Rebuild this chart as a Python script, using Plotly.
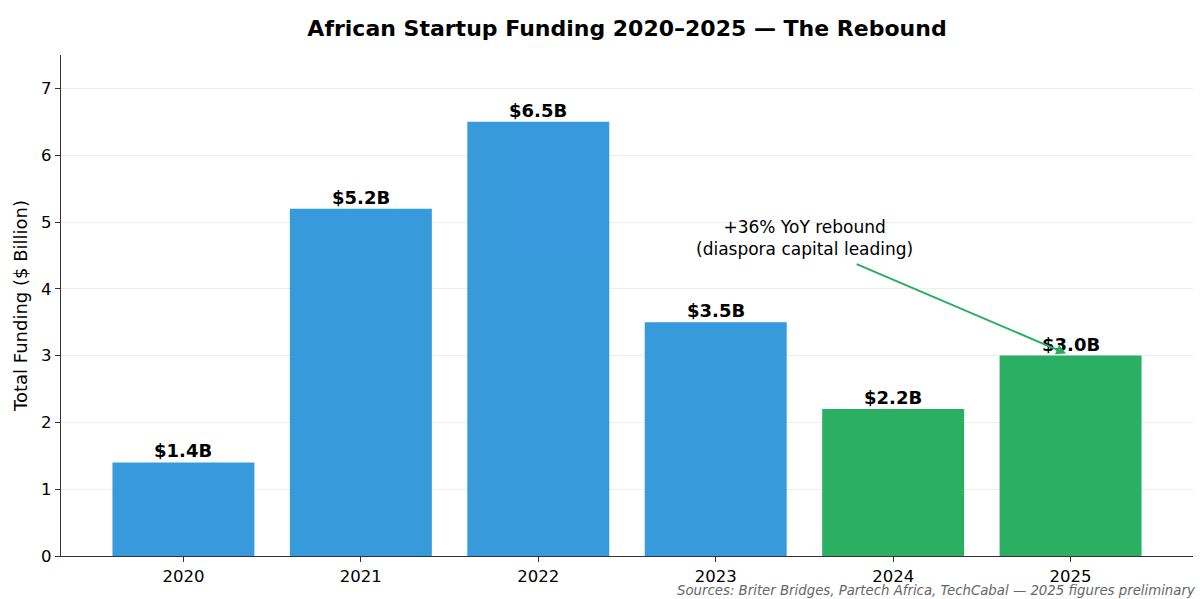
import plotly.graph_objects as go

years = ["2020", "2021", "2022", "2023", "2024", "2025"]
funding = [1.4, 5.2, 6.5, 3.5, 2.2, 3.0]
labels = ["$1.4B", "$5.2B", "$6.5B", "$3.5B", "$2.2B", "$3.0B"]
colors = ["#3498db", "#3498db", "#3498db", "#3498db", "#27ae60", "#27ae60"]
x_idx = list(range(len(years)))

FONT = "DejaVu Sans"

fig = go.Figure()
fig.add_trace(go.Bar(
    x=x_idx, y=funding, width=0.8,
    marker=dict(color=colors, line=dict(width=0)),
    opacity=0.98,
    hoverinfo="skip",
))

annotations = []
for xi, v, lab in zip(x_idx, funding, labels):
    annotations.append(dict(
        x=xi, y=v, xref="x", yref="y", text="<b>%s</b>" % lab,
        showarrow=False, yanchor="bottom", yshift=-1,
        font=dict(family=FONT, size=18, color="black"),
    ))

# arrow
annotations.append(dict(
    x=4.975, y=3.03, xref="x", yref="y",
    ax=3.786, ay=4.38, axref="x", ayref="y",
    text="", showarrow=True, arrowhead=2, arrowsize=1.0, arrowwidth=2,
    arrowcolor="#27ae60",
))
annotations.append(dict(
    x=3.5, y=4.76, xref="x", yref="y",
    text="+36% YoY rebound<br>(diaspora capital leading)",
    showarrow=False, font=dict(family=FONT, size=17, color="black"),
    align="center",
))
annotations.append(dict(
    x=1.0, y=0.0, xref="paper", yref="paper",
    text="<i>Sources: Briter Bridges, Partech Africa, TechCabal — 2025 figures preliminary</i>",
    showarrow=False, xanchor="right", yanchor="top", xshift=5, yshift=-25,
    font=dict(family=FONT, size=13.3, color="#666666"),
))

fig.update_layout(
    width=1200, height=599,
    margin=dict(l=61, r=7, t=55, b=43),
    plot_bgcolor="white", paper_bgcolor="white",
    showlegend=False,
    title=dict(text="<b>African Startup Funding 2020–2025 — The Rebound</b>",
               x=0.5225, xanchor="center", y=0.953, yanchor="middle",
               font=dict(family=FONT, size=22, color="black")),
    font=dict(family=FONT, size=16, color="black"),
    annotations=annotations,
    bargap=0.2,
)
fig.update_xaxes(
    range=[-0.69, 5.69], tickvals=x_idx, ticktext=years,
    showline=True, linecolor="#333333", linewidth=1.2,
    ticks="outside", ticklen=5, tickcolor="#333333",
    showgrid=False, zeroline=False,
    tickfont=dict(family=FONT, size=16.5, color="black"),
)
fig.update_yaxes(
    range=[0, 7.5], tickvals=[0, 1, 2, 3, 4, 5, 6, 7],
    showline=True, linecolor="#333333", linewidth=1.2,
    ticks="outside", ticklen=5, tickcolor="#333333",
    showgrid=True, gridcolor="rgba(0,0,0,0.07)", gridwidth=1,
    zeroline=False, layer="above traces",
    title=dict(text="Total Funding ($ Billion)", font=dict(family=FONT, size=18, color="black"), standoff=8),
    tickfont=dict(family=FONT, size=16.5, color="black"),
)

fig.write_html("out.html")
